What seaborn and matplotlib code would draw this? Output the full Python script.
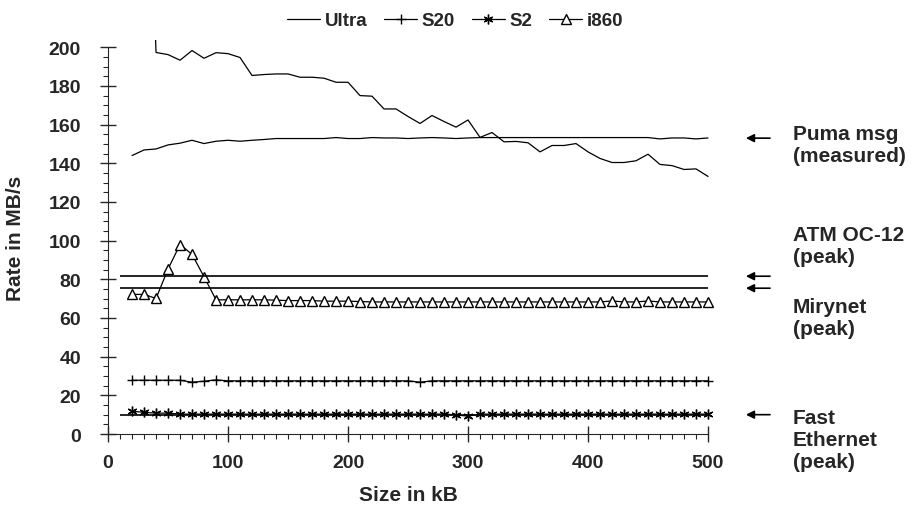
import numpy as np
import pandas as pd
import seaborn as sns
import matplotlib
matplotlib.use("Agg")
import matplotlib.pyplot as plt
import matplotlib.transforms as mtransforms
from matplotlib.ticker import MultipleLocator

# message sizes (kB)
size_ultra = [30, 40, 50, 60, 70, 80, 90, 100, 110, 120, 130, 140, 150, 160, 170, 180, 190, 200,
              210, 220, 230, 240, 250, 260, 270, 280, 290, 300, 310, 320, 330, 340, 350, 360, 370,
              380, 390, 400, 410, 420, 430, 440, 450, 460, 470, 480, 490, 500]
rate_ultra = [380, 197.3, 196.2, 193.3, 198.3, 194.3, 197.2, 196.7, 194.7, 185.4, 185.9, 186.2, 186.2,
              184.5, 184.5, 184.0, 181.9, 181.9, 175.0, 174.7, 168.1, 168.1, 164.2, 160.6, 164.7,
              161.6, 158.7, 162.4, 153.4, 155.9, 151.1, 151.3, 150.6, 145.9, 149.2, 149.2, 150.2,
              145.9, 142.5, 140.4, 140.4, 141.3, 144.7, 139.4, 138.8, 136.8, 137.1, 133.2]

size = list(range(20, 501, 10))
rate_puma = [144.0, 146.9, 147.4, 149.5, 150.4, 151.9, 150.2, 151.4, 151.9, 151.4, 151.9, 152.3,
             152.8, 152.8, 152.8, 152.8, 152.8, 153.3, 152.8, 152.8, 153.3, 153.1, 153.1, 152.8,
             153.1, 153.3, 153.1, 152.8, 153.1, 153.3, 153.3, 153.3, 153.3, 153.3, 153.3, 153.3,
             153.3, 153.3, 153.3, 153.3, 153.3, 153.3, 153.3, 153.3, 152.6, 153.1, 153.1, 152.6, 153.1]
rate_s20 = [27.8, 27.8, 27.8, 27.8, 27.8, 26.8, 27.3, 28.0, 27.5, 27.5, 27.5, 27.5, 27.5, 27.5,
            27.5, 27.5, 27.5, 27.5, 27.5, 27.5, 27.5, 27.5, 27.5, 27.5, 26.8, 27.5, 27.5, 27.5,
            27.5, 27.5, 27.5, 27.5, 27.5, 27.5, 27.5, 27.5, 27.5, 27.5, 27.5, 27.5, 27.5, 27.5,
            27.5, 27.5, 27.5, 27.5, 27.5, 27.5, 27.5]
rate_s2 = [11.8, 11.2, 10.8, 10.8, 10.3, 10.3, 10.3, 10.3, 10.3, 10.3, 10.3, 10.3, 10.3, 10.3,
           10.3, 10.3, 10.3, 10.3, 10.3, 10.3, 10.3, 10.3, 10.3, 10.3, 10.3, 10.3, 10.3, 9.9,
           9.2, 10.3, 10.3, 10.3, 10.3, 10.3, 10.3, 10.3, 10.3, 10.3, 10.3, 10.3, 10.3, 10.3,
           10.3, 10.3, 10.3, 10.3, 10.3, 10.3, 10.3]
rate_i860 = [72.2, 72.2, 70.1, 85.3, 98.0, 92.9, 81.3, 69.4, 69.4, 69.4, 69.4, 69.4, 69.2, 69.0,
             69.0, 69.0, 68.7, 68.7, 68.7, 68.5, 68.3, 68.3, 68.3, 68.3, 68.3, 68.3, 68.3, 68.3,
             68.3, 68.3, 68.3, 68.3, 68.3, 68.3, 68.3, 68.3, 68.3, 68.3, 68.3, 68.3, 68.8, 68.3,
             68.3, 68.8, 68.3, 68.3, 68.3, 68.3, 68.3]

# peak network rates (MB/s)
peak_names = ["ATM OC-12", "Mirynet", "Fast Ethernet"]
peak_rates = [81.6, 75.4, 10.0]
peak_start = 10
puma_level = 153.0

sns.set_style("ticks")
plt.rcParams['font.family'] = ['Liberation Sans', 'DejaVu Sans']
plt.rcParams['font.weight'] = 'bold'

fig = plt.figure(figsize=(9.14, 5.06), dpi=100)
ax = fig.add_axes([0.1182, 0.1403, 0.663, 0.7777])

lw = 0.9
mk = dict(markersize=7, markeredgewidth=1.0, markeredgecolor='black')
sns.lineplot(x=size_ultra, y=rate_ultra, ax=ax, color='black', lw=lw, label='Ultra')
sns.lineplot(x=size, y=rate_s20, ax=ax, color='black', lw=lw, marker='+', label='S20', **mk)
sns.lineplot(x=size, y=rate_s2, ax=ax, color='black', lw=lw, marker=(6, 2, 0), label='S2', **mk)
sns.lineplot(x=size, y=rate_i860, ax=ax, color='black', lw=lw, marker='^',
             markerfacecolor='white', label='i860', **mk)
sns.lineplot(x=size, y=rate_puma, ax=ax, color='black', lw=lw)

for r in peak_rates:
    ax.hlines(r, peak_start, 500, color='black', lw=1.2)

ax.set_xlim(0, 505)
ax.set_ylim(0, 203.5)
ax.spines['left'].set_bounds(0, 200)
ax.spines['bottom'].set_bounds(0, 500)
ax.spines['top'].set_visible(False)
ax.spines['right'].set_visible(False)
ax.set_xticks(np.arange(0, 501, 100))
ax.set_yticks(np.arange(0, 201, 20))
ax.xaxis.set_minor_locator(MultipleLocator(10))
ax.yaxis.set_minor_locator(MultipleLocator(5))
ax.tick_params(which='major', direction='inout', length=11, width=1, labelsize=14)
ax.tick_params(axis='y', which='major', pad=14)
ax.tick_params(axis='x', which='major', pad=9)
ax.tick_params(which='minor', direction='out', length=3.5, width=0.8)
for lab in ax.get_xticklabels() + ax.get_yticklabels():
    lab.set_fontweight('bold')

ax.set_xlabel('Size in kB', fontsize=15, fontweight='bold')
ax.set_ylabel('Rate in MB/s', fontsize=15, fontweight='bold')
ax.xaxis.set_label_coords(0.495, -0.13)
ax.yaxis.set_label_coords(-0.137, 0.5)

ax.get_legend().remove()
handles, labels = ax.get_legend_handles_labels()
fig.legend(handles[:4], labels[:4], loc='center', bbox_to_anchor=(0.498, 0.957), ncol=4,
           frameon=False, handlelength=1.75, handletextpad=0.25, columnspacing=0.9,
           prop={'weight': 'bold', 'size': 13.5})

# right side notes
trans = mtransforms.blended_transform_factory(ax.transAxes, ax.transData)
for y in [puma_level] + peak_rates:
    ax.annotate('', xy=(1.048, y), xycoords=trans, xytext=(1.097, y), textcoords=trans,
                arrowprops=dict(arrowstyle='-|>', color='black', lw=1.2, mutation_scale=12))
notes = [("Puma msg\n(measured)", 149.5), (peak_names[0] + "\n(peak)", 97.4),
         (peak_names[1] + "\n(peak)", 60.2), ("Fast\nEthernet\n(peak)", -2.6)]
for txt, y in notes:
    ax.text(1.13, y, txt, transform=trans, ha='left', va='center', fontsize=15,
            fontweight='bold', linespacing=1.2, clip_on=False)

fig.savefig('out.png', dpi=100)
